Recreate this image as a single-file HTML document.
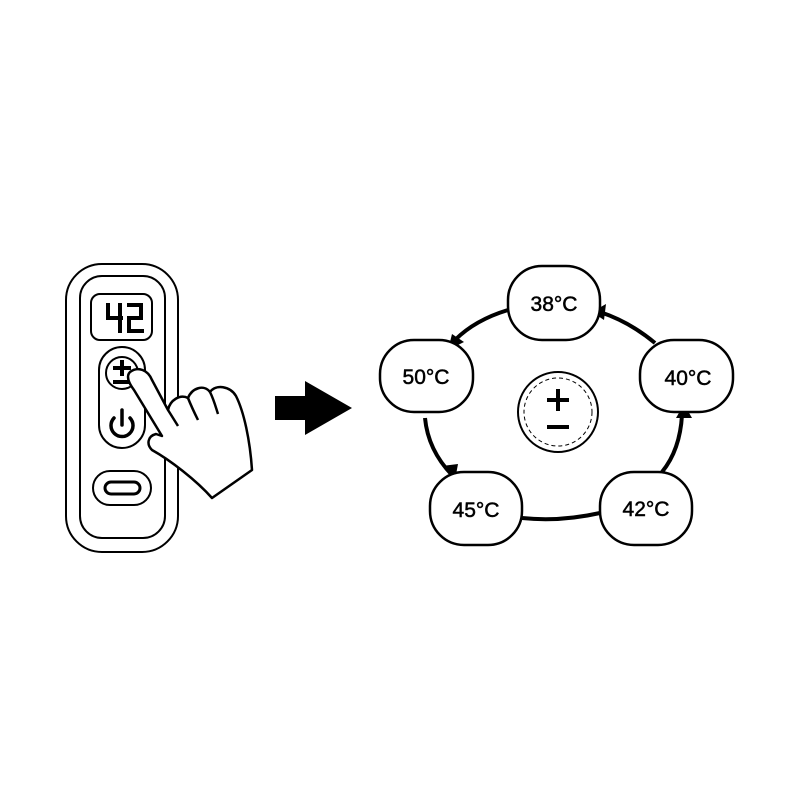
<!DOCTYPE html>
<html><head><style>body{margin:0;background:#fff}svg{display:block}text{font-family:"Liberation Sans",sans-serif}</style></head><body>
<svg width="800" height="800" viewBox="0 0 800 800" xmlns="http://www.w3.org/2000/svg">
<rect width="800" height="800" fill="#fff"/>
<g fill="none" stroke="#000" stroke-width="2">
<rect x="66" y="264" width="112" height="288" rx="36"/>
<rect x="80" y="276" width="85" height="262" rx="22"/>
<rect x="91" y="294" width="61" height="46" rx="9"/>
<rect x="99" y="347" width="46" height="101" rx="23"/>
<circle cx="122" cy="373" r="16"/>
<rect x="93" y="471" width="58" height="34" rx="17"/>
<rect x="105" y="482" width="35" height="12" rx="6" stroke-width="3"/>
</g>
<g stroke="#000" stroke-width="4" fill="none" stroke-linecap="square">
<path d="M108 305 L108 318 L121 318 M120 305 L120 331"/>
<path d="M129 305 L141 305 L141 318 L129 318 L129 331 L142 331"/>
</g>
<g stroke="#000" stroke-width="4">
<line x1="113" y1="368" x2="131" y2="368"/><line x1="122" y1="360" x2="122" y2="376"/><line x1="113" y1="382" x2="131" y2="382"/>
</g>
<g stroke="#000" stroke-width="3.5" fill="none" stroke-linecap="round">
<path d="M114 418 A11 11 0 1 0 130 418"/><line x1="122" y1="410" x2="122" y2="425"/>
</g>
<path d="M130 372 C138 366 148 370 152 380 L168 410 C170 400 180 394 188 398 C192 388 204 384 210 392 C216 384 230 386 236 396 C244 412 250 440 252 470 L212 498 C196 480 170 460 152 450 C146 444 148 436 156 434 L162 436 L134 390 C128 382 126 376 130 372 Z" fill="#fff" stroke="#000" stroke-width="2.5" stroke-linejoin="round"/>
<path d="M168 410 L178 426 M188 398 C192 408 196 416 198 420 M210 392 C214 400 216 408 218 414" fill="none" stroke="#000" stroke-width="2.5"/>
<path d="M275 396 L305 396 L305 381 L352 408 L305 435 L305 420 L275 420 Z" fill="#000"/>
<g fill="none" stroke="#000" stroke-width="4">
<path d="M508 310 Q475 320 455 340"/>
<path d="M425 418 Q428 450 452 475"/>
<path d="M522 518 Q560 522 600 513"/>
<path d="M662 472 Q680 450 682 415"/>
<path d="M655 343 Q630 322 600 312"/>
</g>
<g fill="#000">
<polygon points="448,350 452,334 464,342"/>
<polygon points="455,480 442,466 458,464"/>
<polygon points="684,404 676,418 692,418"/>
<polygon points="592,312 606,304 604,320"/>
</g>
<g fill="#fff" stroke="#000" stroke-width="2.5">
<rect x="508" y="266" width="92" height="74" rx="34"/>
<rect x="380" y="340" width="93" height="72" rx="34"/>
<rect x="640" y="340" width="93" height="72" rx="34"/>
<rect x="430" y="472" width="92" height="73" rx="34"/>
<rect x="600" y="472" width="92" height="73" rx="34"/>
</g>
<g font-size="21" text-anchor="middle" fill="#000" stroke="#000" stroke-width="0.5">
<text x="554" y="311">38°C</text>
<text x="426" y="384">50°C</text>
<text x="688" y="385">40°C</text>
<text x="476" y="517">45°C</text>
<text x="646" y="516">42°C</text>
</g>
<circle cx="558" cy="412" r="40" fill="#fff" stroke="#000" stroke-width="2"/>
<circle cx="558" cy="412" r="34" fill="none" stroke="#000" stroke-width="1" stroke-dasharray="4,3"/>
<g stroke="#000" stroke-width="4">
<line x1="547" y1="400" x2="569" y2="400"/><line x1="558" y1="389" x2="558" y2="411"/><line x1="547" y1="427" x2="569" y2="427"/>
</g>
</svg>
</body></html>
